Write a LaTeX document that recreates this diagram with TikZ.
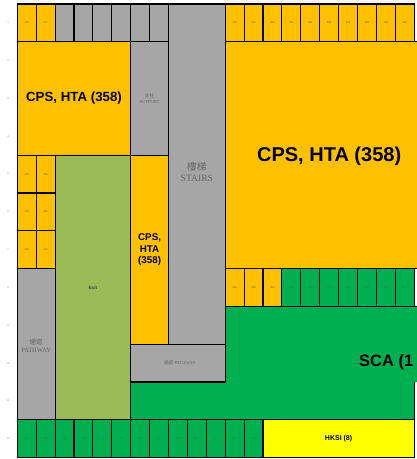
\documentclass[tikz,border=0pt]{standalone}
\usepackage{fontspec}
\setmainfont{Liberation Sans}
\newfontfamily\cjkfont{Noto Sans CJK TC}
\newfontfamily\latserif{Liberation Serif}
\definecolor{cpsorange}{HTML}{FFC000}
\definecolor{roomgray}{HTML}{A6A6A6}
\definecolor{exitgreen}{HTML}{9BBB59}
\definecolor{scagreen}{HTML}{00B050}
\definecolor{hksiyellow}{HTML}{FFFF00}
\tikzset{
  room/.style={draw=black, line width=1.1pt},
  tinylbl/.style={font=\fontsize{2.6}{3}\selectfont, text=black!65},
  rowlbl/.style={font=\fontsize{2.6}{3}\selectfont, text=black!45},
  biglbl/.style={font=\bfseries, text=black, align=center},
  graylbl/.style={text=black!60, align=center}
}

\begin{document}
\begin{tikzpicture}[x=18.9pt, y=-37.8pt]
\useasboundingbox (-0.915,-0.106) rectangle (21.148,12.037);
% row labels
\node[rowlbl] (r1) at (-0.49,0.5) {1};
\node[rowlbl] (r2) at (-0.49,1.5) {2};
\node[rowlbl] (r3) at (-0.49,2.5) {3};
\node[rowlbl] (r4) at (-0.49,3.5) {4};
\node[rowlbl] (r5) at (-0.49,4.5) {5};
\node[rowlbl] (r6) at (-0.49,5.5) {6};
\node[rowlbl] (r7) at (-0.49,6.5) {7};
\node[rowlbl] (r8) at (-0.49,7.5) {8};
\node[rowlbl] (r9) at (-0.49,8.5) {9};
\node[rowlbl] (r10) at (-0.49,9.5) {10};
\node[rowlbl] (r11) at (-0.49,10.5) {11};
\node[rowlbl] (r12) at (-0.49,11.5) {12};
% big rooms
\fill[cpsorange] (11,1) rectangle (21.4,7);
\draw[room] (21.4,1) -- (11,1) -- (11,7) -- (21.4,7);
\node[biglbl, font=\fontsize{20}{23}\bfseries\selectfont] (cpsright) at (16.5,4.03) {CPS, HTA (358)};
\fill[scagreen] (11,8) -- (21.4,8) -- (21.4,10) -- (21,10) -- (21,11) -- (6,11) -- (6,10) -- (11,10) -- cycle;
\draw[room] (21.4,8) -- (11,8) -- (11,10) -- (6,10) -- (6,11) -- (21,11) -- (21,10);
\begin{scope}
\clip (11,8) rectangle (21,10);
\node[biglbl, anchor=west, font=\fontsize{16.5}{20}\bfseries\selectfont] (sca) at (17.9,9.47) {SCA (1};
\end{scope}
\draw[room, fill=cpsorange] (0,1) rectangle (6,4);
\node[biglbl, font=\fontsize{13.3}{15}\bfseries\selectfont] (cpsleft) at (3,2.5) {CPS, HTA (358)};
\draw[room, fill=roomgray] (6,1) rectangle (8,4);
\node[graylbl, font=\fontsize{4.6}{5.6}\selectfont] (support) at (7,2.5) {{\cjkfont 支柱}\\{\latserif SUPPORT}};
\draw[room, fill=roomgray] (8,0) rectangle (11,9);
\node[graylbl, font=\fontsize{9.6}{11.5}\selectfont] (stairs) at (9.5,4.45) {{\cjkfont 樓梯}\\{\latserif STAIRS}};
\draw[room, fill=cpsorange] (6,4) rectangle (8,9);
\node[biglbl, font=\fontsize{9.8}{11.2}\bfseries\selectfont] (cpsmid) at (7,6.5) {CPS,\\HTA\\(358)};
\draw[room, fill=exitgreen] (2,4) rectangle (6,11);
\node[font=\fontsize{4.6}{5.6}\bfseries\selectfont, text=black!75] (exit) at (4,7.5) {Exit};
\draw[room, fill=roomgray] (0,7) rectangle (2,11);
\node[graylbl, font=\fontsize{6.5}{8}\selectfont] (pathleft) at (1,9.05) {{\cjkfont 通道}\\{\latserif PATHWAY}};
\draw[room, fill=roomgray] (6,9) rectangle (11,10);
\node[graylbl, font=\fontsize{4.6}{5.6}\selectfont] (pathmid) at (8.6,9.5) {{\cjkfont 通道} {\latserif PATHWAY}};
\draw[room, fill=hksiyellow] (13,11) rectangle (21,12);
\node[biglbl, font=\fontsize{7}{8}\bfseries\selectfont] (hksi) at (17,11.5) {HKSI (8)};
% top row
\draw[room, fill=cpsorange] (0,0) rectangle (1,1);
\node[tinylbl] (c376) at (0.5,0.5) {376};
\draw[room, fill=cpsorange] (1,0) rectangle (2,1);
\node[tinylbl] (c377) at (1.5,0.5) {377};
\draw[room, fill=roomgray] (2,0) rectangle (3,1);
\draw[room, fill=roomgray] (3,0) rectangle (4,1);
\draw[room, fill=roomgray] (4,0) rectangle (5,1);
\draw[room, fill=roomgray] (5,0) rectangle (6,1);
\draw[room, fill=roomgray] (6,0) rectangle (7,1);
\draw[room, fill=roomgray] (7,0) rectangle (8,1);
\draw[room, fill=cpsorange] (11,0) rectangle (12,1);
\node[tinylbl] (c378) at (11.5,0.5) {378};
\draw[room, fill=cpsorange] (12,0) rectangle (13,1);
\node[tinylbl] (c379) at (12.5,0.5) {379};
\draw[room, fill=cpsorange] (13,0) rectangle (14,1);
\node[tinylbl] (c380) at (13.5,0.5) {380};
\draw[room, fill=cpsorange] (14,0) rectangle (15,1);
\node[tinylbl] (c381) at (14.5,0.5) {381};
\draw[room, fill=cpsorange] (15,0) rectangle (16,1);
\node[tinylbl] (c382) at (15.5,0.5) {382};
\draw[room, fill=cpsorange] (16,0) rectangle (17,1);
\node[tinylbl] (c383) at (16.5,0.5) {383};
\draw[room, fill=cpsorange] (17,0) rectangle (18,1);
\node[tinylbl] (c384) at (17.5,0.5) {384};
\draw[room, fill=cpsorange] (18,0) rectangle (19,1);
\node[tinylbl] (c385) at (18.5,0.5) {385};
\draw[room, fill=cpsorange] (19,0) rectangle (20,1);
\node[tinylbl] (c386) at (19.5,0.5) {386};
\draw[room, fill=cpsorange] (20,0) rectangle (21,1);
\node[tinylbl] (c387) at (20.5,0.5) {387};
% left small rooms
\draw[room, fill=cpsorange] (0,4) rectangle (1,5);
\node[tinylbl] (c366) at (0.5,4.5) {366};
\draw[room, fill=cpsorange] (1,4) rectangle (2,5);
\node[tinylbl] (c365) at (1.5,4.5) {365};
\draw[room, fill=cpsorange] (0,5) rectangle (1,6);
\node[tinylbl] (c364) at (0.5,5.5) {364};
\draw[room, fill=cpsorange] (1,5) rectangle (2,6);
\node[tinylbl] (c363) at (1.5,5.5) {363};
\draw[room, fill=cpsorange] (0,6) rectangle (1,7);
\node[tinylbl] (c362) at (0.5,6.5) {362};
\draw[room, fill=cpsorange] (1,6) rectangle (2,7);
\node[tinylbl] (c361) at (1.5,6.5) {361};
% row 8 right
\draw[room, fill=cpsorange] (11,7) rectangle (12,8);
\node[tinylbl] (c356) at (11.5,7.5) {356};
\draw[room, fill=cpsorange] (12,7) rectangle (13,8);
\node[tinylbl] (c355) at (12.5,7.5) {355};
\draw[room, fill=cpsorange] (13,7) rectangle (14,8);
\node[tinylbl] (c354) at (13.5,7.5) {354};
\draw[room, fill=scagreen] (14,7) rectangle (15,8);
\node[tinylbl] (c153) at (14.5,7.5) {153};
\draw[room, fill=scagreen] (15,7) rectangle (16,8);
\node[tinylbl] (c152) at (15.5,7.5) {152};
\draw[room, fill=scagreen] (16,7) rectangle (17,8);
\node[tinylbl] (c151) at (16.5,7.5) {151};
\draw[room, fill=scagreen] (17,7) rectangle (18,8);
\node[tinylbl] (c150) at (17.5,7.5) {150};
\draw[room, fill=scagreen] (18,7) rectangle (19,8);
\node[tinylbl] (c149) at (18.5,7.5) {149};
\draw[room, fill=scagreen] (19,7) rectangle (20,8);
\node[tinylbl] (c148) at (19.5,7.5) {148};
\draw[room, fill=scagreen] (20,7) rectangle (21,8);
\node[tinylbl] (c147) at (20.5,7.5) {147};
% bottom row
\draw[room, fill=scagreen] (0,11) rectangle (1,12);
\node[tinylbl] (c31) at (0.5,11.5) {31};
\draw[room, fill=scagreen] (1,11) rectangle (2,12);
\node[tinylbl] (c30) at (1.5,11.5) {30};
\draw[room, fill=scagreen] (2,11) rectangle (3,12);
\node[tinylbl] (c29) at (2.5,11.5) {29};
\draw[room, fill=scagreen] (3,11) rectangle (4,12);
\node[tinylbl] (c28) at (3.5,11.5) {28};
\draw[room, fill=scagreen] (4,11) rectangle (5,12);
\node[tinylbl] (c27) at (4.5,11.5) {27};
\draw[room, fill=scagreen] (5,11) rectangle (6,12);
\node[tinylbl] (c26) at (5.5,11.5) {26};
\draw[room, fill=scagreen] (6,11) rectangle (7,12);
\node[tinylbl] (c25) at (6.5,11.5) {25};
\draw[room, fill=scagreen] (7,11) rectangle (8,12);
\node[tinylbl] (c24) at (7.5,11.5) {24};
\draw[room, fill=scagreen] (8,11) rectangle (9,12);
\node[tinylbl] (c23) at (8.5,11.5) {23};
\draw[room, fill=scagreen] (9,11) rectangle (10,12);
\node[tinylbl] (c22) at (9.5,11.5) {22};
\draw[room, fill=scagreen] (10,11) rectangle (11,12);
\node[tinylbl] (c21) at (10.5,11.5) {21};
\draw[room, fill=scagreen] (11,11) rectangle (12,12);
\node[tinylbl] (c20) at (11.5,11.5) {20};
\draw[room, fill=scagreen] (12,11) rectangle (13,12);
\node[tinylbl] (c19) at (12.5,11.5) {19};
\end{tikzpicture}
\end{document}
